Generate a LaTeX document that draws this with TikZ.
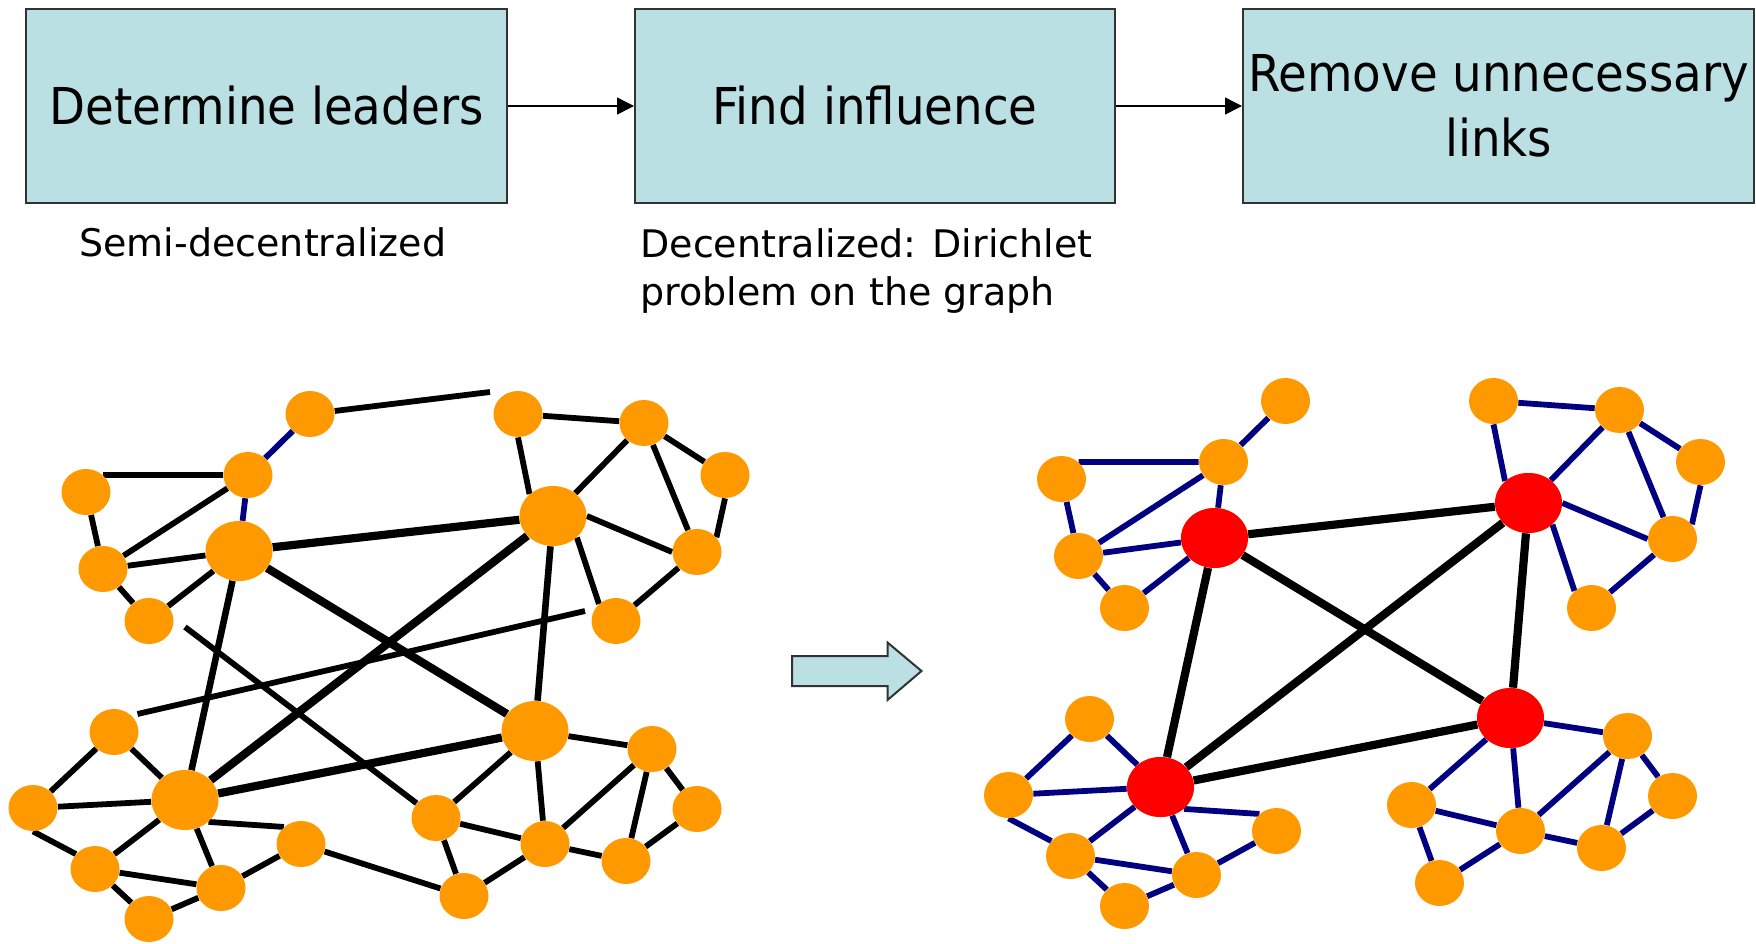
\documentclass[tikz,border=0pt]{standalone}
\usepackage{fontspec}
\setmainfont{DejaVu Sans}
\newfontfamily\boxfont[FakeStretch=0.92]{DejaVu Sans}
\newfontfamily\subfont{DejaVu Sans}
\usetikzlibrary{shapes.geometric,arrows.meta}
\definecolor{boxfill}{RGB}{187,224,227}
\definecolor{nodeorange}{RGB}{255,153,0}
\definecolor{edgeblue}{RGB}{0,0,128}
\definecolor{leaderred}{RGB}{255,0,0}
\definecolor{boxline}{RGB}{50,50,50}
\pgfdeclarelayer{edges}
\pgfsetlayers{edges,main}
\tikzset{
  stepbox/.style={draw=boxline, line width=1pt, fill=boxfill, inner sep=0pt, align=center,
    font=\boxfont\fontsize{25.4pt}{32.5pt}\selectfont},
  flowarrow/.style={line width=0.75pt, -{Triangle[length=8.5pt,width=8.5pt]}},
  subtext/.style={inner sep=0pt, align=left, font=\subfont\fontsize{19pt}{24pt}\selectfont},
  vertex/.style={ellipse, inner sep=0pt, draw=none},
  plainedge/.style={line width=2.9pt},
  blueedge/.style={line width=2.9pt, draw=edgeblue},
  midedge/.style={line width=3.3pt},
  thickedge/.style={line width=4.1pt},
}
\def\vlist{1/310/414/24.5/23, 2/518/414/24.5/23, 3/644/423/24.5/23, 4/725/475/24.5/23,
  5/248/475/24.5/23, 6/86/492/24.5/23, 7/553/516/33.5/30, 8/239/551/33.5/30,
  9/103/569/24.5/23, 10/697/552/24.5/23, 11/149/621/24.5/23, 12/616/621/24.5/23,
  13/114/732/24.5/23, 14/535/731/33.5/30, 15/652/749/24.5/23, 16/33/808/24.5/23,
  17/185/800/33.5/30, 18/697/809/24.5/23, 19/436/818/24.5/23, 20/301/844/24.5/23,
  21/545/844/24.5/23, 22/95/869/24.5/23, 23/221/888/24.5/23, 24/626/861/24.5/23,
  25/464/896/24.5/23, 26/149/919/24.5/23}
\def\intraedges{6.45/5.west, 6/9, 9/5, 9/8, 9/11, 11/8, 2/3, 2.south/7.137, 3/7, 3/4,
  3/10, 4.south/10.37, 7.east/10.west, 7.-42/12.135, 10/12, 13/16, 13/17, 16/17,
  16.south/22.142, 17/22, 17/23, 17.-43/20.135, 22/23, 22/26, 23/26, 23/20, 19/14,
  19/21, 19/25, 14/15, 14/21, 15/21, 15/18, 15/24, 21/24, 21/25, 18/24}
\begin{document}
\begin{tikzpicture}[x=0.5pt,y=-0.5pt]
\useasboundingbox (0,0) rectangle (1756,943);
\begin{pgfonlayer}{edges}
\fill[white] (0,0) rectangle (1756,943);
\end{pgfonlayer}

% process boxes
\node[stepbox, minimum width=240.5pt, minimum height=97pt] (b1) at (266.5,106) {Determine leaders};
\node[stepbox, minimum width=240pt, minimum height=97pt] (b2) at (875,106) {Find influence};
\node[stepbox, minimum width=255.5pt, minimum height=97pt] (b3) at (1498.5,106) {Remove unnecessary\\links};
\draw[flowarrow] (b1) -- (b2);
\draw[flowarrow] (b2) -- (b3);

\node[subtext, anchor=base west] (s1) at (79,256.5) {Semi-decentralized};
\node[subtext, anchor=north west] (s2) at (640,228) {Decentralized: Dirichlet\\problem on the graph};

% block arrow
\draw[draw=boxline, line width=1pt, fill=boxfill, line join=miter]
  (792,656) -- (887.5,656) -- (887.5,642.5) -- (921.5,671) -- (887.5,700) -- (887.5,686) -- (792,686) -- cycle;

% left graph nodes
\foreach \i/\x/\y/\w/\h in \vlist {
  \node[vertex, fill=nodeorange, minimum width=\w pt, minimum height=\h pt] (L\i) at (\x,\y) {};
}
% right graph nodes
\foreach \i/\x/\y/\w/\h in \vlist {
  \node[vertex, fill=nodeorange, minimum width=\w pt, minimum height=\h pt] (R\i) at ({\x+975.5},{\y-13}) {};
}
\foreach \i in {7,8,14,17} {
  \node[vertex, fill=leaderred, minimum width=33.5pt, minimum height=30pt] at (R\i) {};
}

\coordinate (fa) at (490,392);
\coordinate (fb1) at (137.5,714);
\coordinate (fb2) at (585,611);
\coordinate (fc) at (185,627);

\begin{pgfonlayer}{edges}
  % left graph
  \foreach \a/\b in \intraedges { \draw[plainedge] (L\a) -- (L\b); }
  \draw[plainedge] (L20) -- (L25);
  \draw[blueedge] (L1) -- (L5);
  \draw[blueedge] (L5) -- (L8);
  \foreach \a/\b in {8/7, 8/14, 7/17, 17/14} { \draw[thickedge] (L\a) -- (L\b); }
  \foreach \a/\b in {8/17, 7/14} { \draw[midedge] (L\a) -- (L\b); }
  \draw[plainedge] (L1) -- (fa);
  \draw[plainedge] (fb1) -- (fb2);
  \draw[plainedge] (fc) -- (L19);
  % right graph
  \foreach \a/\b in \intraedges { \draw[blueedge] (R\a) -- (R\b); }
  \draw[blueedge] (R1) -- (R5);
  \draw[blueedge] (R5) -- (R8);
  \foreach \a/\b in {8/7, 8/14, 8/17, 7/17, 7/14, 17/14} { \draw[thickedge] (R\a) -- (R\b); }
\end{pgfonlayer}
\end{tikzpicture}
\end{document}
